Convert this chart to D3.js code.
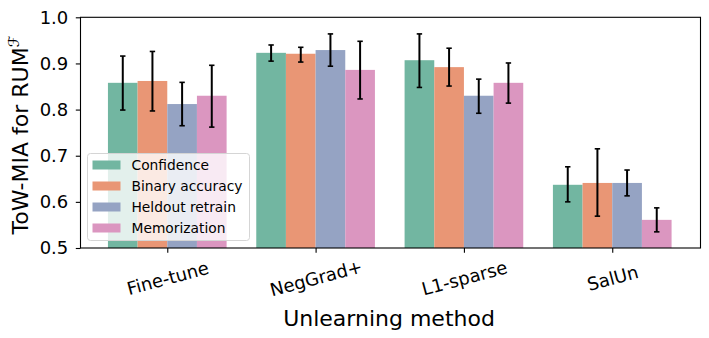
<!DOCTYPE html>
<html>
<head>
<meta charset="utf-8">
<script src="https://cdn.jsdelivr.net/npm/d3@7"></script>
<style>
  body { margin: 0; background: #fff; }
  svg text { font-family: "DejaVu Sans", sans-serif; fill: #000; }
</style>
</head>
<body>
<svg id="chart"></svg>
<script>
// methods on the x axis
const methods = ["Fine-tune", "NegGrad+", "L1-sparse", "SalUn"];
const seriesNames = ["Confidence", "Binary accuracy", "Heldout retrain", "Memorization"];
const colors = ["#72b6a1", "#e99675", "#95a3c3", "#db96c0"];

// bar heights, one array per series (in methods order)
const confidence = [0.858, 0.923, 0.907, 0.637];
const binaryAcc  = [0.862, 0.921, 0.892, 0.641];
const heldout    = [0.812, 0.929, 0.830, 0.641];
const memorize   = [0.830, 0.886, 0.858, 0.561];

// error bar ends [low, high]
const confErr = [[0.799, 0.916], [0.905, 0.940], [0.848, 0.964], [0.600, 0.676]];
const binErr  = [[0.797, 0.926], [0.903, 0.935], [0.851, 0.933], [0.569, 0.715]];
const heldErr = [[0.765, 0.859], [0.894, 0.964], [0.792, 0.866], [0.613, 0.669]];
const memErr  = [[0.762, 0.896], [0.823, 0.948], [0.814, 0.901], [0.535, 0.587]];

const yTicks = [0.5, 0.6, 0.7, 0.8, 0.9, 1.0];

const values = [confidence, binaryAcc, heldout, memorize];
const errs = [confErr, binErr, heldErr, memErr];

const width = 709, height = 338;
const marginLeft = 80.5, marginRight = 8.5, marginTop = 17.3, marginBottom = 90;

const svg = d3.select("#chart")
    .attr("width", width)
    .attr("height", height);

const x = d3.scaleLinear()
    .domain([-0.585, 3.595])
    .range([marginLeft, width - marginRight]);

const y = d3.scaleLinear()
    .domain([0.5, 1.0])
    .range([height - marginBottom, marginTop]);

const groupW = 0.8;
const barW = groupW / seriesNames.length;

var rows = [];
values.forEach(function (arr, s) {
    arr.forEach(function (v, i) {
        rows.push({ s: s, i: i, v: v, lo: errs[s][i][0], hi: errs[s][i][1] });
    });
});

svg.selectAll("rect.bar")
    .data(rows)
    .join("rect")
    .attr("class", "bar")
    .attr("x", d => x(d.i - groupW / 2 + d.s * barW))
    .attr("width", d => x(barW) - x(0))
    .attr("y", d => y(d.v))
    .attr("height", d => y(0.5) - y(d.v))
    .attr("fill", d => colors[d.s]);

// error bars
const eb = svg.append("g").attr("stroke", "#000").attr("stroke-width", 2);
rows.forEach(function (d) {
    const cx = x(d.i - groupW / 2 + (d.s + 0.5) * barW);
    eb.append("line").attr("x1", cx).attr("x2", cx).attr("y1", y(d.lo)).attr("y2", y(d.hi));
    eb.append("line").attr("x1", cx - 2.7).attr("x2", cx + 2.7).attr("y1", y(d.lo)).attr("y2", y(d.lo)).attr("stroke-width", 1.6);
    eb.append("line").attr("x1", cx - 2.7).attr("x2", cx + 2.7).attr("y1", y(d.hi)).attr("y2", y(d.hi)).attr("stroke-width", 1.6);
});

// axes
const yAxis = svg.append("g")
    .attr("transform", `translate(${marginLeft},0)`)
    .call(d3.axisLeft(y).tickValues(yTicks).tickFormat(d3.format(".1f")).tickSize(4.7).tickPadding(7.5));
yAxis.select(".domain").remove();
yAxis.selectAll("text").style("font-size", "18px");
yAxis.selectAll("line").attr("stroke-width", 1.1);

const xAxis = svg.append("g")
    .attr("transform", `translate(0,${height - marginBottom})`)
    .call(d3.axisBottom(x).tickValues([0, 1, 2, 3]).tickFormat(i => methods[i]).tickSize(4.7));
xAxis.select(".domain").remove();
xAxis.selectAll("line").attr("stroke-width", 1.1);
xAxis.selectAll("text")
    .style("font-size", "18px")
    .attr("y", 0).attr("dy", null)
    .attr("text-anchor", "middle")
    .attr("dominant-baseline", "central")
    .attr("transform", "translate(0,30) rotate(-15)");

// frame
svg.append("rect")
    .attr("x", marginLeft).attr("y", marginTop)
    .attr("width", width - marginLeft - marginRight)
    .attr("height", height - marginBottom - marginTop)
    .attr("fill", "none").attr("stroke", "#000").attr("stroke-width", 1.1);

// axis labels
svg.append("text")
    .attr("x", 389)
    .attr("y", 326)
    .attr("text-anchor", "middle")
    .style("font-size", "22px")
    .text("Unlearning method");

const yl = svg.append("text")
    .attr("transform", `translate(27.5,135) rotate(-90)`)
    .attr("text-anchor", "middle")
    .style("font-size", "22px");
yl.append("tspan").text("ToW-MIA for RUM");
yl.append("tspan").attr("dy", -9).style("font-size", "15px").style("font-style", "italic").text("ℱ");

// legend
const lg = svg.append("g").attr("transform", "translate(87.5,153.5)");
lg.append("rect")
    .attr("width", 162).attr("height", 87)
    .attr("rx", 3)
    .attr("fill", "#fff").attr("fill-opacity", 0.8)
    .attr("stroke", "#d5d5d5");
seriesNames.forEach(function (name, k) {
    const row = lg.append("g").attr("transform", `translate(0,${11.5 + k * 21})`);
    row.append("rect").attr("x", 5).attr("y", -4.5).attr("width", 28).attr("height", 9).attr("fill", colors[k]);
    row.append("text").attr("x", 44).attr("y", 0).attr("dy", "0.35em").style("font-size", "13.8px").text(name);
});
</script>
</body>
</html>
